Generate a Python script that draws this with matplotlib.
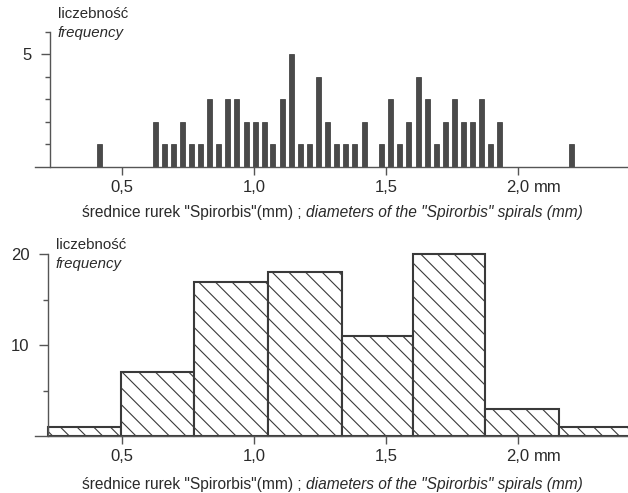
import matplotlib.pyplot as plt
import numpy as np

plt.rcParams['font.family'] = ['Liberation Sans', 'DejaVu Sans']
plt.rcParams['hatch.linewidth'] = 0.8

# pomiary pojedyncze (gorny wykres)
srednice = [0.413, 0.625, 0.66, 0.694, 0.729, 0.763, 0.797, 0.833, 0.867, 0.90,
            0.935, 0.97, 1.004, 1.04, 1.07, 1.108, 1.143, 1.177, 1.21, 1.246,
            1.28, 1.314, 1.348, 1.382, 1.417, 1.484, 1.518, 1.552, 1.587, 1.623,
            1.657, 1.691, 1.727, 1.761, 1.794, 1.828, 1.863, 1.896, 1.93, 2.204]
liczebnosc = [1, 2, 1, 1, 2, 1, 1, 3, 1, 3, 3, 2, 2, 2, 1, 3, 5, 1, 1, 4,
              2, 1, 1, 1, 2, 1, 3, 1, 2, 4, 3, 1, 2, 3, 2, 2, 3, 1, 2, 1]

# klasy (dolny wykres)
granice = [0.218, 0.494, 0.771, 1.053, 1.332, 1.602, 1.877, 2.156, 2.437]
klasy = [1, 7, 17, 18, 11, 20, 3, 1]

xticks = [0.5, 1.0, 1.5, 2.0]
xlabels = ['0,5', '1,0', '1,5', '2,0']

szary = '#4a4a4a'
tekst = '#2a2a2a'
lab_pl = 'średnice rurek "Spirorbis"(mm) ; '
lab_en = 'diameters of the "Spirorbis" spirals (mm)'

fig = plt.figure(figsize=(6.28, 4.93), dpi=100)
ax1 = fig.add_axes([35/628, (493-167)/493, 593/628, 135.5/493])
ax2 = fig.add_axes([35/628, (493-436)/493, 593/628, 181.7/493])
r = fig.canvas.get_renderer()

def osie(ax, ytop, spine_x):
    ax.set_xlim(0.17, 2.417)
    ax.set_ylim(0, ytop)
    for s in ['top', 'right']:
        ax.spines[s].set_visible(False)
    ax.spines['left'].set_position(('data', spine_x))
    ax.spines['left'].set_bounds(0, ytop)
    for s in ['left', 'bottom']:
        ax.spines[s].set_color('#555555')
        ax.spines[s].set_linewidth(1.0)
    ax.set_xticks(xticks)
    ax.set_xticklabels(xlabels)
    ax.tick_params(axis='x', direction='out', length=6, width=1, color='#555555',
                   labelsize=12, labelcolor=tekst, pad=3.5)
    ax.tick_params(axis='y', which='major', direction='out', length=6.5, width=1,
                   color='#555555', labelsize=12, labelcolor=tekst, pad=7)
    ax.tick_params(axis='y', which='minor', direction='out', length=3.5, width=1,
                   color='#555555')
    ax.annotate('mm', xy=(2.0, 0), xycoords=('data', 'axes fraction'),
                xytext=(11.5, -9.5), textcoords='offset points', ha='left', va='top',
                fontsize=12, color=tekst)
    ax.patch.set_visible(False)

def opis_x(y_px, x_srodek=332):
    # dwuczesciowy podpis osi: zwykly + kursywa
    t1 = fig.text(0, 1 - y_px/493, lab_pl, fontsize=11.2, color=tekst, va='center')
    t2 = fig.text(0, 1 - y_px/493, lab_en, fontsize=11.2, color=tekst, va='center',
                  style='italic')
    w1 = t1.get_window_extent(r).width
    w2 = t2.get_window_extent(r).width
    x0 = x_srodek - (w1 + w2) / 2
    t1.set_x(x0 / 628)
    t2.set_x((x0 + w1) / 628)

# gorny
ax1.bar(srednice, liczebnosc, width=0.019, color=szary, edgecolor='#333333', linewidth=0.5)
osie(ax1, 6, 0.227)
ax1.set_yticks([5])
ax1.set_yticks([1, 2, 3, 4, 6], minor=True)

# dolny
szer = np.diff(granice)
ax2.bar(granice[:-1], klasy, width=szer, align='edge', color='white', edgecolor='#3a3a3a',
        linewidth=1.5, hatch='\\\\', clip_on=False)
osie(ax2, 20, 0.22)
ax2.set_yticks([10, 20])
ax2.set_yticks([5, 15], minor=True)

opis_x(212)
opis_x(485)

for y, x in [(0, 58), (231, 56)]:
    fig.text(x/628, 1 - (y + 14)/493, 'liczebność', fontsize=10.8, color=tekst, va='center')
    fig.text(x/628, 1 - (y + 33)/493, 'frequency', fontsize=10.8, color=tekst, va='center',
             style='italic')

fig.savefig('out.png', dpi=100)
